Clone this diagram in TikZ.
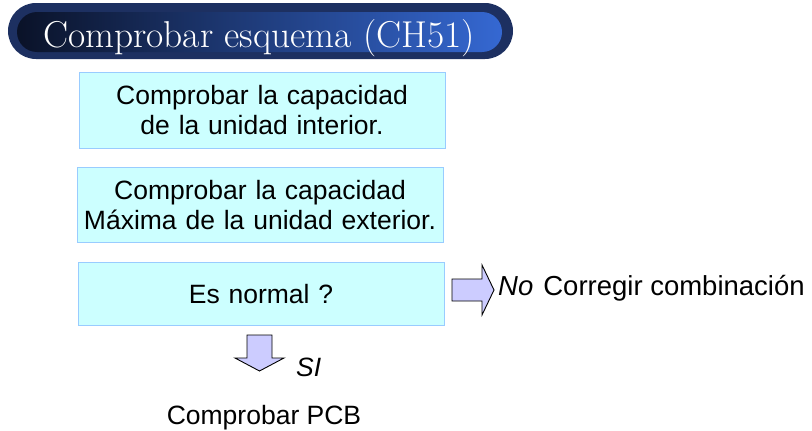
\documentclass[tikz,border=0pt]{standalone}
\usepackage{fontspec}
\setsansfont{Liberation Sans}
\usetikzlibrary{positioning}
\definecolor{bannernavy}{HTML}{1D3061}
\definecolor{bannerdark}{HTML}{0A1228}
\definecolor{bannerblue}{HTML}{3568D2}
\definecolor{stepcyan}{HTML}{CCFFFF}
\definecolor{stepedge}{HTML}{99CCFF}
\definecolor{arrowlilac}{HTML}{CCCCFF}

\begin{document}
\begin{tikzpicture}[
    x=1pt, y=-1pt,
    font=\sffamily\fontsize{26.5}{30}\selectfont,
    checkbox/.style={
        draw=stepedge,
        line width=0.8pt,
        fill=stepcyan,
        text width=366pt,
        inner sep=0pt,
        align=center
    },
    blockarrow/.style={draw=black, line width=0.9pt, fill=arrowlilac},
    note/.style={inner sep=0pt, anchor=base west}
]
\useasboundingbox (0,0) rectangle (812,431);

% title banner
\node[fill=bannernavy, rounded corners=28pt, minimum width=505pt,
      minimum height=56pt, inner sep=0pt] (banner) at (260.5,31) {};
\node[left color=bannerdark, right color=bannerblue, rounded corners=20pt,
      minimum width=485pt, minimum height=40pt, inner sep=0pt] (bannerin) at (259.5,32) {};
\node[text=white, anchor=base, inner sep=0pt,
      font=\rmfamily\fontsize{37.4}{40}\selectfont] (title) at (259,47)
    {Comprobar esquema (CH51)};

% check steps
\node[checkbox, minimum height=76pt] (indoor) at (262,110)
    {Comprobar la capacidad\\de la unidad interior.};
\node[checkbox, minimum height=75pt, below=19pt of indoor, xshift=-2pt] (outdoor)
    {Comprobar la capacidad\\Máxima de la unidad exterior.};
\node[checkbox, minimum height=63pt, below=19pt of outdoor, xshift=1pt] (normal)
    {Es normal ?};

% answers
\draw[blockarrow] (452,279) -- (482,279) -- (482,265) -- (494,290)
    -- (482,315) -- (482,301) -- (452,301) -- cycle;
\node[note, font=\sffamily\fontsize{27.5}{30}\selectfont] (wrong) at (498,295)
    {\textit{No}\hspace{10pt}Corregir combinación};

\draw[blockarrow] (247,335) -- (272,335) -- (272,358) -- (284,358)
    -- (259.5,371) -- (235,358) -- (247,358) -- cycle;
\node[note] (yes) at (296,376) {\textit{SI}};

\node[anchor=base, inner sep=0pt] (pcb) at (264,424) {Comprobar PCB};

\end{tikzpicture}
\end{document}
